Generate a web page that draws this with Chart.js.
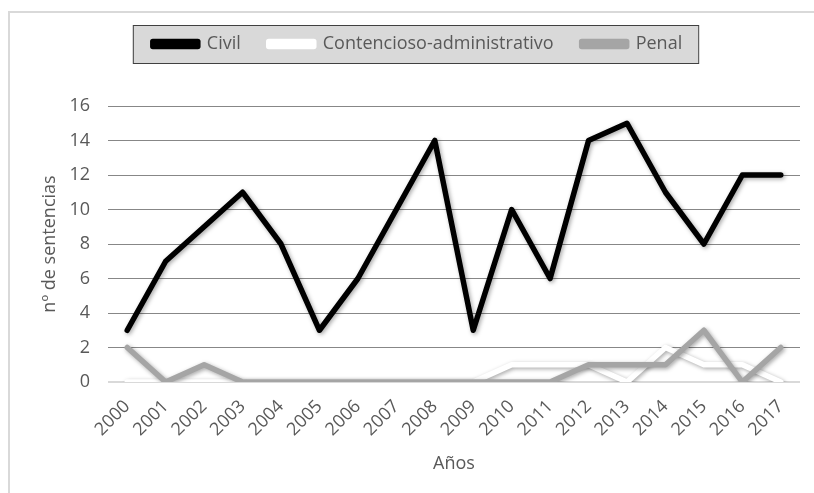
<!DOCTYPE html>
<html>
<head>
<meta charset="utf-8">
<script src="https://cdn.jsdelivr.net/npm/chart.js@4.4.1/dist/chart.umd.min.js"></script>
<style>
  html, body { margin: 0; padding: 0; background: #fff; }
  #frame { position: absolute; left: 8px; top: 11px; width: 900px; height: 600px; border: 2px solid #d9d9d9; }
  #wrap { position: absolute; left: 0; top: 0; width: 814px; height: 493px; }
</style>
</head>
<body>
<div id="frame"></div>
<div id="wrap"><canvas id="chart" width="814" height="493"></canvas></div>
<script>
// datos
const years = ['2000','2001','2002','2003','2004','2005','2006','2007','2008','2009',
               '2010','2011','2012','2013','2014','2015','2016','2017'];
const civil = [3, 7, 9, 11, 8, 3, 6, 10, 14, 3, 10, 6, 14, 15, 11, 8, 12, 12];
const contencioso = [0, 0, 0, 0, 0, 0, 0, 0, 0, 0, 1, 1, 1, 0, 2, 1, 1, 0];
const penal = [2, 0, 1, 0, 0, 0, 0, 0, 0, 0, 0, 0, 1, 1, 1, 3, 0, 2];
const yTicks = [0, 2, 4, 6, 8, 10, 12, 14, 16];

const gris = '#595959';
const fuente = { family: '"Open Sans", sans-serif', size: 18 };

// sombra suave para las lineas
const sombra = {
  id: 'sombra',
  beforeDatasetDraw(chart) {
    const ctx = chart.ctx;
    ctx.save();
    ctx.shadowColor = 'rgba(0,0,0,0.35)';
    ctx.shadowBlur = 4;
    ctx.shadowOffsetX = 1.5;
    ctx.shadowOffsetY = 1.5;
  },
  afterDatasetDraw(chart) {
    chart.ctx.restore();
  }
};

// hueco entre la leyenda y el area del grafico
const espacioLeyenda = {
  id: 'espacioLeyenda',
  beforeInit(chart) {
    const lg = chart.legend;
    if (!lg) return;
    const fit = lg.fit;
    lg.fit = function () {
      fit.call(this);
      this.height = 99;
    };
  }
};

// caja gris detras de la leyenda
const cajaLeyenda = {
  id: 'cajaLeyenda',
  beforeDraw(chart) {
    const lg = chart.legend;
    if (!lg || !lg.legendHitBoxes.length) return;
    const boxes = lg.legendHitBoxes;
    const last = boxes[boxes.length - 1];
    const left = boxes[0].left - 20;
    const right = last.left + last.width + 16;
    const top = boxes[0].top - 10;
    const bottom = boxes[0].top + boxes[0].height + 10;
    const ctx = chart.ctx;
    ctx.save();
    ctx.fillStyle = '#d9d9d9';
    ctx.fillRect(left, top, right - left, bottom - top);
    ctx.strokeStyle = '#404040';
    ctx.lineWidth = 1;
    ctx.strokeRect(left + 0.5, top + 0.5, right - left, bottom - top);
    ctx.restore();
  }
};

const serie = (label, data, color, order) => ({
  label, data,
  borderColor: color,
  backgroundColor: color,
  borderWidth: 5.5,
  borderJoinStyle: 'round',
  borderCapStyle: 'round',
  pointRadius: 0,
  tension: 0,
  order
});

new Chart(document.getElementById('chart'), {
  type: 'line',
  data: {
    labels: years,
    datasets: [
      serie('Civil', civil, '#000000', 3),
      serie('Contencioso-administrativo', contencioso, '#ffffff', 2),
      serie('Penal', penal, '#a5a5a5', 1)
    ]
  },
  options: {
    responsive: false,
    animation: false,
    layout: { padding: { left: 35, right: 14, top: 7, bottom: 14 } },
    plugins: {
      tooltip: { enabled: false },
      legend: {
        position: 'top',
        labels: {
          color: gris,
          font: fuente,
          boxWidth: 45,
          boxHeight: 5,
          padding: 28,
          sort: (a, b) => a.datasetIndex - b.datasetIndex
        }
      }
    },
    scales: {
      x: {
        offset: true,
        grid: { display: false },
        border: { display: false },
        ticks: { color: gris, font: fuente, minRotation: 45, maxRotation: 45, padding: 6 },
        title: { display: true, text: 'Años', color: gris, font: fuente, padding: { top: 7, bottom: 4 } }
      },
      y: {
        min: 0,
        max: 16,
        afterBuildTicks: (axis) => { axis.ticks = yTicks.map(v => ({ value: v })); },
        afterFit: (axis) => { axis.width = 73; },
        grid: {
          drawTicks: false,
          color: (c) => c.tick && c.tick.value === 0 ? '#d9d9d9' : '#878787',
          lineWidth: (c) => c.tick && c.tick.value === 0 ? 2 : 1
        },
        border: { display: false },
        ticks: { color: gris, font: fuente, padding: 18 },
        title: { display: true, text: 'nº de sentencias', color: gris, font: fuente, padding: { top: 4, bottom: 0 } }
      }
    }
  },
  plugins: [sombra, espacioLeyenda, cajaLeyenda]
});
</script>
</body>
</html>
